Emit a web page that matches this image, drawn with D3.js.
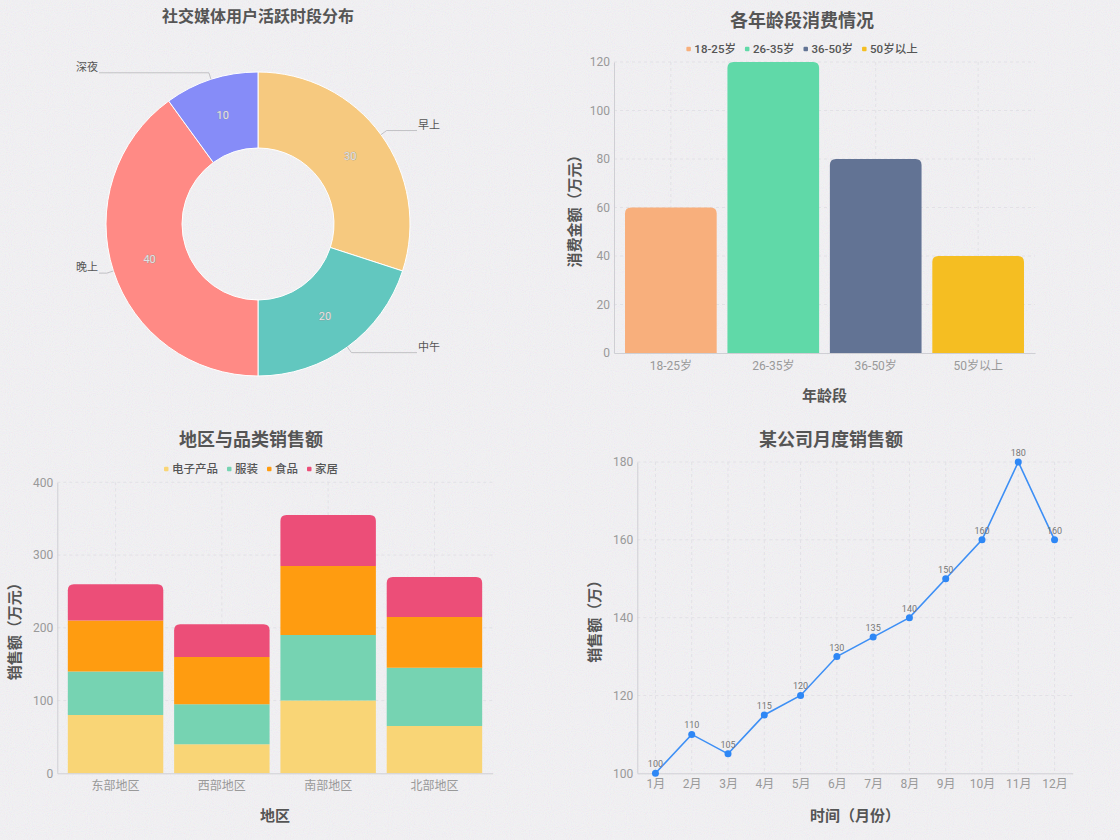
<!DOCTYPE html>
<html><head><meta charset="utf-8">
<script src="https://cdn.jsdelivr.net/npm/d3@7/dist/d3.min.js"></script>
<style>
html,body{margin:0;padding:0;background:#f5f4f7;}
svg{display:block;font-family:Roboto,"Noto Sans CJK SC",sans-serif;}
</style></head>
<body>
<svg id="chart" width="1120" height="840"></svg>
<script>
// ---------- data ----------
const pieLabels = ["早上","中午","晚上","深夜"];
const pieValues = [30,20,40,10];
const pieColors = ["#F6C97F","#62C7BF","#FF8A85","#868CF8"];

const ageGroups = ["18-25岁","26-35岁","36-50岁","50岁以上"];
const ageSpend = [60,120,80,40];
const ageColors = ["#F8AF7C","#60D9A8","#627394","#F5BE22"];
const ageTicks = [0,20,40,60,80,100,120];

const regions = ["东部地区","西部地区","南部地区","北部地区"];
const catNames = ["电子产品","服装","食品","家居"];
const catElectronics = [80,40,100,65];
const catClothing = [60,55,90,80];
const catFood = [70,65,95,70];
const catHome = [50,45,70,55];
const catColors = ["#F9D576","#76D3B2","#FF9C10","#EC4E78"];
const regionTicks = [0,100,200,300,400];

const months = ["1月","2月","3月","4月","5月","6月","7月","8月","9月","10月","11月","12月"];
const monthSales = [100,110,105,115,120,130,135,140,150,160,180,160];
const monthTicks = [100,120,140,160,180];

// ---------- setup ----------
const svg = d3.select("#chart");
const defs = svg.append("defs");
const f = defs.append("filter").attr("id","noise").attr("x",0).attr("y",0).attr("width","100%").attr("height","100%");
f.append("feTurbulence").attr("type","fractalNoise").attr("baseFrequency",0.95).attr("numOctaves",2).attr("seed",7).attr("stitchTiles","stitch");
f.append("feColorMatrix").attr("type","matrix").attr("values","1 0 0 0 0  0 1 0 0 0  0 0 1 0 0  0 0 0 0 0.10");
svg.append("rect").attr("width",1120).attr("height",840).attr("fill","#f5f4f7");
svg.append("rect").attr("width",1120).attr("height",840).attr("filter","url(#noise)").attr("opacity",0.9);

const titleColor = "#555";
const tickColor = "#999";
const axisColor = "#cfcfd4";
const gridColor = "#e2e1e6";

function title(x,y,t,size){
  svg.append("text").attr("x",x).attr("y",y).attr("text-anchor","middle").attr("dominant-baseline","central")
    .attr("font-size",size).attr("font-weight","bold").attr("fill",titleColor).text(t);
}
function legend(cx,cy,names,colors){
  const g = svg.append("g");
  const items = names.map((n,i)=>{
    const it = g.append("g");
    it.append("rect").attr("width",4.5).attr("height",4.5).attr("y",-2.25).attr("rx",1).attr("fill",colors[i]);
    const t = it.append("text").attr("x",8).attr("dominant-baseline","central").attr("font-size",11.5)
      .attr("font-weight",500).attr("fill","#555").text(n);
    return {it, w: 8 + t.node().getComputedTextLength()};
  });
  const gap = 9;
  const total = d3.sum(items,d=>d.w) + gap*(items.length-1);
  let x = cx - total/2;
  items.forEach(d=>{ d.it.attr("transform",`translate(${x},${cy})`); x += d.w + gap; });
}
function styleAxis(g){
  g.select(".domain").attr("stroke",axisColor);
  g.selectAll(".tick line").remove();
  g.selectAll(".tick text").attr("fill",tickColor).attr("font-size",12).attr("font-family",'Roboto,"Noto Sans CJK SC",sans-serif');
}
function topRoundedRect(x,y,w,h,r){
  r = Math.min(r,h,w/2);
  return `M${x},${y+h}V${y+r}Q${x},${y} ${x+r},${y}H${x+w-r}Q${x+w},${y} ${x+w},${y+r}V${y+h}Z`;
}

// ---------- Chart 1: donut ----------
(function(){
  title(258,16,"社交媒体用户活跃时段分布",16);
  const cx=258, cy=224, rO=152, rI=76;
  const pie = d3.pie().sort(null).value(d=>d)(pieValues);
  const arc = d3.arc().innerRadius(rI).outerRadius(rO);
  const g = svg.append("g").attr("transform",`translate(${cx},${cy})`);
  g.selectAll("path").data(pie).join("path").attr("d",arc)
    .attr("fill",(d,i)=>pieColors[i]).attr("stroke","#fff").attr("stroke-width",1);
  const mid = d3.arc().innerRadius((rI+rO)/2).outerRadius((rI+rO)/2);
  g.selectAll("text.v").data(pie).join("text").attr("class","v")
    .attr("transform",d=>`translate(${mid.centroid(d)})`)
    .attr("text-anchor","middle").attr("dominant-baseline","central")
    .attr("font-size",11).attr("fill","#e4e4e4").attr("stroke","#8f8f8f").attr("stroke-width",0.5)
    .attr("paint-order","stroke").text(d=>d.data);
  pie.forEach((d,i)=>{
    const a = (d.startAngle+d.endAngle)/2;
    const p0 = [Math.sin(a)*rO, -Math.cos(a)*rO];
    const p1 = [Math.sin(a)*(rO+7), -Math.cos(a)*(rO+7)];
    const right = Math.sin(a) > 0;
    const xEnd = right ? 417-cx : 99-cx;
    g.append("path").attr("d",`M${p0}L${p1}L${xEnd},${p1[1]}`).attr("fill","none")
      .attr("stroke","#b5b5b9").attr("stroke-width",0.8);
    g.append("text").attr("x", right ? xEnd+1 : xEnd-1).attr("y",p1[1]-2)
      .attr("text-anchor", right ? "start":"end").attr("font-size",11).attr("fill","#555").text(pieLabels[i]);
  });
})();

// ---------- Chart 2: bar ----------
(function(){
  title(802,20,"各年龄段消费情况",18);
  legend(802,49,ageGroups,ageColors);
  const x0=614, x1=1035, yTop=62, yBot=353;
  const x = d3.scaleBand().domain(ageGroups).range([x0,x1]).paddingInner(0).paddingOuter(0.055);
  const y = d3.scaleLinear().domain([0,120]).range([yBot,yTop]);
  const grid = svg.append("g");
  grid.selectAll("line.h").data(ageTicks.slice(1)).join("line").attr("x1",x0).attr("x2",x1)
    .attr("y1",d=>y(d)).attr("y2",d=>y(d)).attr("stroke",gridColor).attr("stroke-dasharray","3,3");
  grid.selectAll("line.v").data(ageGroups).join("line").attr("y1",yTop).attr("y2",yBot)
    .attr("x1",d=>x(d)+x.bandwidth()/2).attr("x2",d=>x(d)+x.bandwidth()/2).attr("stroke",gridColor).attr("stroke-dasharray","3,3");
  const bw = x.bandwidth()*0.895;
  svg.append("g").selectAll("path").data(ageSpend).join("path")
    .attr("d",(d,i)=>topRoundedRect(x(ageGroups[i])+x.bandwidth()/2-bw/2, y(d), bw, yBot-y(d), 6))
    .attr("fill",(d,i)=>ageColors[i]);
  const ax = svg.append("g").attr("transform",`translate(0,${yBot})`).call(d3.axisBottom(x).tickSize(0).tickPadding(8));
  styleAxis(ax);
  const ay = svg.append("g").attr("transform",`translate(${x0},0)`).call(d3.axisLeft(y).tickValues(ageTicks).tickSize(0).tickPadding(4));
  styleAxis(ay);
  svg.append("text").attr("transform",`translate(575,${(yTop+yBot)/2}) rotate(-90)`).attr("text-anchor","middle")
    .attr("dominant-baseline","central").attr("font-size",15).attr("font-weight","bold").attr("fill",titleColor).text("消费金额（万元）");
  svg.append("text").attr("x",(x0+x1)/2).attr("y",396).attr("text-anchor","middle").attr("dominant-baseline","central")
    .attr("font-size",15).attr("font-weight","bold").attr("fill",titleColor).text("年龄段");
})();

// ---------- Chart 3: stacked bar ----------
(function(){
  title(251,439,"地区与品类销售额",18);
  legend(251,469,catNames,catColors);
  const x0=57.3, x1=492.7, yTop=482.3, yBot=773.3;
  const x = d3.scaleBand().domain(regions).range([x0,x1]).paddingInner(0).paddingOuter(0.048);
  const y = d3.scaleLinear().domain([0,400]).range([yBot,yTop]);
  const grid = svg.append("g");
  grid.selectAll("line.h").data(regionTicks.slice(1)).join("line").attr("x1",x0).attr("x2",x1)
    .attr("y1",d=>y(d)).attr("y2",d=>y(d)).attr("stroke",gridColor).attr("stroke-dasharray","3,3");
  grid.selectAll("line.v").data(regions).join("line").attr("y1",yTop).attr("y2",yBot)
    .attr("x1",d=>x(d)+x.bandwidth()/2).attr("x2",d=>x(d)+x.bandwidth()/2).attr("stroke",gridColor).attr("stroke-dasharray","3,3");
  const table = regions.map((r,i)=>({region:r, "电子产品":catElectronics[i], "服装":catClothing[i], "食品":catFood[i], "家居":catHome[i]}));
  const series = d3.stack().keys(catNames)(table);
  const bw = x.bandwidth()*0.898;
  series.forEach((s,si)=>{
    const last = si === series.length-1;
    svg.append("g").selectAll("path").data(s).join("path")
      .attr("d",d=>{
        const bx = x(d.data.region)+x.bandwidth()/2-bw/2;
        const yy = y(d[1]), h = y(d[0])-y(d[1]);
        return last ? topRoundedRect(bx,yy,bw,h,6) : `M${bx},${yy}h${bw}v${h}h${-bw}Z`;
      }).attr("fill",catColors[si]);
  });
  const ax = svg.append("g").attr("transform",`translate(0,${yBot})`).call(d3.axisBottom(x).tickSize(0).tickPadding(8));
  styleAxis(ax);
  const ay = svg.append("g").attr("transform",`translate(${x0},0)`).call(d3.axisLeft(y).tickValues(regionTicks).tickSize(0).tickPadding(4));
  styleAxis(ay);
  svg.append("text").attr("transform",`translate(15,${(yTop+yBot)/2}) rotate(-90)`).attr("text-anchor","middle")
    .attr("dominant-baseline","central").attr("font-size",15).attr("font-weight","bold").attr("fill",titleColor).text("销售额（万元）");
  svg.append("text").attr("x",(x0+x1)/2).attr("y",816).attr("text-anchor","middle").attr("dominant-baseline","central")
    .attr("font-size",15).attr("font-weight","bold").attr("fill",titleColor).text("地区");
})();

// ---------- Chart 4: line ----------
(function(){
  title(831,439,"某公司月度销售额",18);
  const x0=637.3, x1=1072.7, yTop=462, yBot=773.3;
  const x = d3.scalePoint().domain(months).range([x0,x1]).padding(0.5);
  const y = d3.scaleLinear().domain([100,180]).range([yBot,yTop]);
  const grid = svg.append("g");
  grid.selectAll("line.h").data(monthTicks.slice(1)).join("line").attr("x1",x0).attr("x2",x1)
    .attr("y1",d=>y(d)).attr("y2",d=>y(d)).attr("stroke",gridColor).attr("stroke-dasharray","3,3");
  grid.selectAll("line.v").data(months).join("line").attr("y1",yTop).attr("y2",yBot)
    .attr("x1",d=>x(d)).attr("x2",d=>x(d)).attr("stroke",gridColor).attr("stroke-dasharray","3,3");
  const ax = svg.append("g").attr("transform",`translate(0,${yBot})`).call(d3.axisBottom(x).tickSize(0).tickPadding(6));
  styleAxis(ax);
  const ay = svg.append("g").attr("transform",`translate(${x0},0)`).call(d3.axisLeft(y).tickValues(monthTicks).tickSize(0).tickPadding(4));
  styleAxis(ay);
  const line = d3.line().x((d,i)=>x(months[i])).y(d=>y(d));
  svg.append("path").datum(monthSales).attr("d",line).attr("fill","none").attr("stroke","#3D8FF5").attr("stroke-width",1.6);
  svg.append("g").selectAll("circle").data(monthSales).join("circle")
    .attr("cx",(d,i)=>x(months[i])).attr("cy",d=>y(d)).attr("r",3.5).attr("fill","#2E87F5");
  svg.append("g").selectAll("text").data(monthSales).join("text")
    .attr("x",(d,i)=>x(months[i])).attr("y",d=>y(d)-9).attr("text-anchor","middle").attr("dominant-baseline","central")
    .attr("font-size",9).attr("fill","#777").text(d=>d);
  svg.append("text").attr("transform",`translate(595,${(yTop+yBot)/2}) rotate(-90)`).attr("text-anchor","middle")
    .attr("dominant-baseline","central").attr("font-size",15).attr("font-weight","bold").attr("fill",titleColor).text("销售额（万）");
  svg.append("text").attr("x",(x0+x1)/2).attr("y",816).attr("text-anchor","middle").attr("dominant-baseline","central")
    .attr("font-size",15).attr("font-weight","bold").attr("fill",titleColor).text("时间（月份）");
})();
</script>
</body></html>
